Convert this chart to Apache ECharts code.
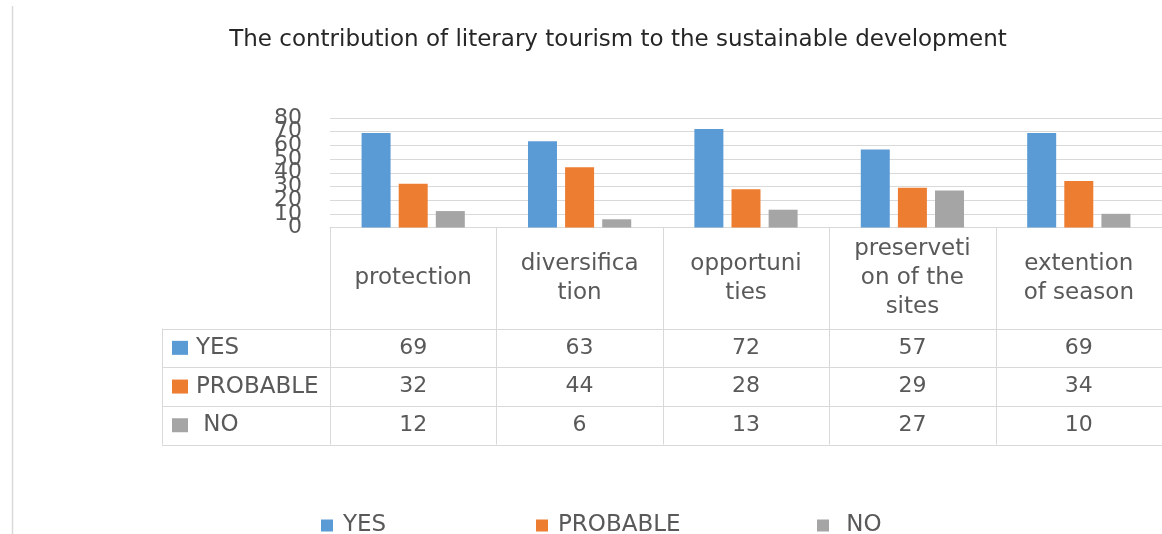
<!DOCTYPE html>
<html>
<head>
<meta charset="utf-8">
<script src="https://cdn.jsdelivr.net/npm/echarts@6/dist/echarts.min.js"></script>
<style>
  html, body { margin: 0; padding: 0; background: #fff; }
  #chart { width: 1162px; height: 534px; }
</style>
</head>
<body>
<div id="chart"></div>
<script>
// Survey answers per aspect of sustainable development
const categories = ['protection', 'diversifica\ntion', 'opportuni\nties', 'preserveti\non of the\nsites', 'extention\nof season'];
const seriesNames = ['YES', 'PROBABLE', ' NO'];
const yesValues = [69, 63, 72, 57, 69];
const probableValues = [32, 44, 28, 29, 34];
const noValues = [12, 6, 13, 27, 10];
const yTicks = [0, 10, 20, 30, 40, 50, 60, 70, 80];

const colors = ['#5b9bd5', '#ed7d31', '#a5a5a5'];
const seriesValues = [yesValues, probableValues, noValues];
const FONT = 'DejaVu Sans';
const TXT = '#595959';
const LINE = '#d9d9d9';

const chart = echarts.init(document.getElementById('chart'));

const legendLefts = [321, 536, 817];

chart.setOption({
  animation: false,
  backgroundColor: '#fff',
  title: {
    text: 'The contribution of literary tourism to the sustainable development',
    left: 613,
    textAlign: 'center',
    top: 24,
    textStyle: { fontFamily: FONT, fontSize: 23, fontWeight: 'normal', color: '#262626' }
  },
  legend: seriesNames.map((n, i) => ({
    data: [n],
    left: legendLefts[i],
    top: 514,
    padding: 0,
    itemWidth: 12,
    itemHeight: 12,
    icon: 'rect',
    textStyle: { fontFamily: FONT, fontSize: 23, color: TXT, padding: [0, 0, 0, 5] }
  })),
  grid: { left: 330, top: 118, width: 842.5, height: 109.5, containLabel: false },
  xAxis: {
    type: 'category',
    data: categories,
    axisLine: { lineStyle: { color: LINE } },
    axisTick: { show: false },
    axisLabel: {
      fontFamily: FONT, fontSize: 23, color: TXT,
      lineHeight: 29, verticalAlign: 'middle', align: 'center', margin: 51,
      interval: 0
    }
  },
  yAxis: {
    type: 'value',
    min: yTicks[0],
    max: yTicks[yTicks.length - 1],
    interval: yTicks[1] - yTicks[0],
    axisLine: { show: false },
    axisTick: { show: false },
    splitLine: { lineStyle: { color: LINE } },
    // tick labels are crowded on purpose; they are drawn below without overlap hiding
    axisLabel: { show: false }
  },
  series: seriesNames.map((n, i) => ({
    name: n,
    type: 'bar',
    data: seriesValues[i],
    barWidth: 29,
    barGap: '28%',
    itemStyle: { color: colors[i] }
  }))
});

// Value-axis tick labels and the data table under the plot
function drawExtras() {
  const c0 = chart.convertToPixel({ xAxisIndex: 0 }, 0);
  const c1 = chart.convertToPixel({ xAxisIndex: 0 }, 1);
  const band = c1 - c0;
  const top = chart.convertToPixel({ yAxisIndex: 0 }, 0);
  const headerBottom = top + 101;
  const rowH = 38.7;
  const tableLeft = 162;
  const colLeft = c0 - band / 2;
  const tableRight = colLeft + band * categories.length;
  const bottom = headerBottom + rowH * seriesNames.length;
  const els = [];

  yTicks.forEach(t => {
    els.push({
      type: 'text', x: colLeft - 28, y: chart.convertToPixel({ yAxisIndex: 0 }, t),
      style: { text: String(t), font: '22px "' + FONT + '"', fill: TXT, align: 'right', verticalAlign: 'middle' },
      silent: true
    });
  });

  const line = (x1, y1, x2, y2) => els.push({
    type: 'line', shape: { x1, y1, x2, y2 }, style: { stroke: LINE, lineWidth: 1 }, silent: true
  });
  for (let k = 0; k <= categories.length; k++) {
    const x = Math.round(colLeft + band * k) + 0.5;
    line(x, top, x, bottom);
  }
  line(tableLeft + 0.5, headerBottom, tableLeft + 0.5, bottom);
  for (let r = 0; r <= seriesNames.length; r++) {
    const y = Math.round(headerBottom + rowH * r) + 0.5;
    line(tableLeft, y, tableRight, y);
  }
  seriesNames.forEach((n, r) => {
    const cy = headerBottom + rowH * (r + 0.5);
    els.push({ type: 'rect', shape: { x: 172, y: cy - 7, width: 16, height: 14 }, style: { fill: colors[r] }, silent: true });
    els.push({ type: 'text', x: 196, y: cy, style: { text: n, font: '23px "' + FONT + '"', fill: TXT, verticalAlign: 'middle', align: 'left' }, silent: true });
    seriesValues[r].forEach((v, i) => {
      els.push({ type: 'text', x: colLeft + band * (i + 0.5), y: cy, style: { text: String(v), font: '22px "' + FONT + '"', fill: TXT, verticalAlign: 'middle', align: 'center' }, silent: true });
    });
  });
  // outer frame line on the left side
  els.push({ type: 'line', shape: { x1: 12.5, y1: 6, x2: 12.5, y2: 534 }, style: { stroke: LINE, lineWidth: 1.5 }, silent: true });
  chart.setOption({ graphic: { elements: els } });
}
drawExtras();
</script>
</body>
</html>
